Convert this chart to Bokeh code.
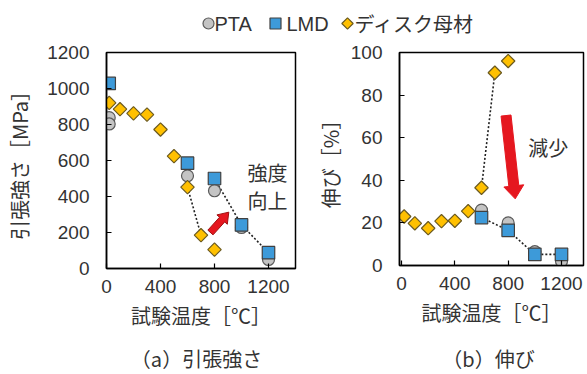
import numpy as np
from bokeh.plotting import figure
from bokeh.layouts import column, row
from bokeh.models import Range1d, FixedTicker
from bokeh.embed import file_html
from bokeh.resources import INLINE
from bokeh.core.properties import value

# ---------------- data ----------------
temp_disk = [20, 100, 200, 300, 400, 500, 600, 700, 800]
disk_strength = [920, 885, 862, 855, 772, 624, 452, 185, 105]
disk_elong = [23, 19.8, 17.5, 20.8, 21, 25.5, 36.5, 90.5, 96]

temp_pta_s = [20, 20, 600, 800, 1000, 1200]
pta_strength = [838, 803, 515, 432, 228, 50]
temp_lmd_s = [20, 600, 800, 1000, 1200]
lmd_strength = [1028, 585, 500, 242, 88]

temp_pta_e = [600, 800, 1000, 1200]
pta_elong = [26, 20, 6.5, 2]
temp_lmd_e = [600, 800, 1000, 1200]
lmd_elong = [22.5, 16.5, 5.2, 5.2]

x_ticks = [0, 400, 800, 1200]
strength_ticks = [0, 200, 400, 600, 800, 1000, 1200]
elong_ticks = [0, 20, 40, 60, 80, 100]

legend_labels = ["PTA", "LMD", "ディスク母材"]
y_title_a = "引張強さ［MPa］"
y_title_b = "伸び［%］"
x_title = "試験温度［℃］"
caption_a = "（a）引張強さ"
caption_b = "（b）伸び"
note_a = ["強度", "向上"]
note_b = "減少"

# arrow annotations (tail, head) in data units
arrow_a = [(770, 200), (906, 313)]
arrow_b = [(784, 70.4), (853, 31.3)]

# ---------------- styles ----------------
JP = "Noto Sans CJK JP"
LAT = "Liberation Sans"
TXT = "#333333"
PTA_STYLE = dict(marker="circle", size=12, fill_color="#c4c4c4", line_color="#5a5a5a", line_width=1.2)
LMD_STYLE = dict(marker="square", size=12.5, fill_color="#3d9ad9", line_color="#404040", line_width=1.2)
DISK_STYLE = dict(marker="square", size=9.5, angle=np.pi / 4, fill_color="#ffc000", line_color="#6b5a20", line_width=1.2)
DOT = dict(line_color="#222222", line_width=1.6, line_dash="2 2")
RED = "#e5171f"


def style_axes(p, yticks):
    p.xgrid.visible = False
    p.ygrid.visible = False
    p.outline_line_color = "black"
    p.outline_line_width = 1.5
    p.xaxis.ticker = FixedTicker(ticks=x_ticks)
    p.yaxis.ticker = FixedTicker(ticks=yticks)
    for ax in (p.xaxis[0], p.yaxis[0]):
        ax.axis_line_color = "black"
        ax.axis_line_width = 1.5
        ax.major_tick_in = 5
        ax.major_tick_out = 0
        ax.major_tick_line_color = "black"
        ax.major_tick_line_width = 1.2
        ax.minor_tick_line_color = None
        ax.major_label_text_font = LAT
        ax.major_label_text_font_size = "19px"
        ax.major_label_text_color = TXT
        ax.axis_label_text_font = JP
        ax.axis_label_text_font_size = "20px"
        ax.axis_label_text_font_style = "normal"
        ax.axis_label_text_color = TXT
    p.xaxis.major_label_standoff = 11
    p.xaxis.axis_label_standoff = 5
    p.yaxis.major_label_standoff = 17


def arrow_patch(p, tail, head, sx, sy, shaft_w, head_w, head_len, line_color):
    P0 = np.array([tail[0] * sx, tail[1] * sy])
    P1 = np.array([head[0] * sx, head[1] * sy])
    d = P1 - P0
    u = d / np.linalg.norm(d)
    n = np.array([-u[1], u[0]])
    B = P1 - u * head_len
    pts = [P0 + n * shaft_w / 2, B + n * shaft_w / 2, B + n * head_w / 2, P1,
           B - n * head_w / 2, B - n * shaft_w / 2, P0 - n * shaft_w / 2]
    xs = [q[0] / sx for q in pts]
    ys = [q[1] / sy for q in pts]
    p.patch(xs, ys, fill_color=RED, line_color=line_color, line_width=1)


# ---------------- (a) tensile strength ----------------
p1 = figure(frame_width=189, frame_height=216, x_range=Range1d(0, 1400), y_range=Range1d(0, 1200),
            min_border_left=106, min_border_right=12, min_border_top=9, min_border_bottom=65,
            output_backend="svg", toolbar_location=None, background_fill_color=None,
            border_fill_color="white")
style_axes(p1, strength_ticks)
p1.yaxis.axis_label = y_title_a
p1.xaxis.axis_label = x_title
p1.yaxis.axis_label_standoff = 10

p1.line(temp_disk[6:8], disk_strength[6:8], **DOT)
p1.line(temp_lmd_s[2:], lmd_strength[2:], **DOT)
p1.scatter(temp_pta_s, pta_strength, **PTA_STYLE)
p1.scatter(temp_lmd_s, lmd_strength, **LMD_STYLE)
p1.scatter(temp_disk, disk_strength, **DISK_STYLE)
arrow_patch(p1, arrow_a[0], arrow_a[1], 189 / 1400, 216 / 1200, 7, 14, 10, "#a01010")
p1.text(x=[1193, 1193], y=[533, 378], text=note_a, text_font=value(JP), text_font_size="20px",
        text_color=TXT, text_align="center", text_baseline="middle")

# ---------------- (b) elongation ----------------
p2 = figure(frame_width=184, frame_height=213, x_range=Range1d(-15, 1365), y_range=Range1d(0, 100),
            min_border_left=92, min_border_right=3, min_border_top=14, min_border_bottom=63,
            output_backend="svg", toolbar_location=None, background_fill_color=None,
            border_fill_color="white")
style_axes(p2, elong_ticks)
p2.yaxis.axis_label = y_title_b
p2.xaxis.axis_label = x_title
p2.yaxis.axis_label_standoff = 3
p2.yaxis.major_label_standoff = 17

p2.line(temp_disk[6:8], disk_elong[6:8], **DOT)
p2.line(temp_lmd_e, lmd_elong, **DOT)
p2.scatter(temp_pta_e, pta_elong, **PTA_STYLE)
p2.scatter(temp_lmd_e, lmd_elong, **LMD_STYLE)
p2.scatter(temp_disk, disk_elong, **DISK_STYLE)
arrow_patch(p2, arrow_b[0], arrow_b[1], 184 / 1380, 213 / 100, 10, 20, 13, RED)
p2.text(x=[1100], y=[55.4], text=[note_b], text_font=value(JP), text_font_size="20px",
        text_color=TXT, text_align="center", text_baseline="middle")

# ---------------- legend strip (page pixel coordinates) ----------------
leg = figure(frame_width=587, frame_height=38, x_range=Range1d(0, 587), y_range=Range1d(0, 38),
             x_axis_type=None, y_axis_type=None, min_border=0, output_backend="svg",
             toolbar_location=None, outline_line_color=None)
leg.xgrid.visible = False
leg.ygrid.visible = False
ly = 38 - 23
leg.scatter([208], [ly], **dict(PTA_STYLE, size=11))
leg.scatter([275], [ly], **dict(LMD_STYLE, size=11))
leg.scatter([347], [ly], **dict(DISK_STYLE, size=8))
leg.text(x=[214, 286], y=[ly, ly], text=legend_labels[:2], text_font=value(LAT), text_font_size="20px",
         text_color=TXT, text_baseline="middle")
leg.text(x=[354], y=[ly], text=legend_labels[2:], text_font=value(JP), text_font_size="20px",
         text_color=TXT, text_baseline="middle")

# ---------------- caption strip ----------------
cap = figure(frame_width=587, frame_height=46, x_range=Range1d(0, 587), y_range=Range1d(0, 46),
             x_axis_type=None, y_axis_type=None, min_border=0, output_backend="svg",
             toolbar_location=None, outline_line_color=None)
cap.xgrid.visible = False
cap.ygrid.visible = False
cy = 374 - 357
cap.text(x=[196, 488], y=[cy, cy], text=[caption_a, caption_b], text_font=value(JP), text_font_size="20px",
         text_color=TXT, text_align="center", text_baseline="middle")

layout = column(leg, row(p1, p2), cap)
open("out.html", "w").write(file_html(layout, INLINE))
